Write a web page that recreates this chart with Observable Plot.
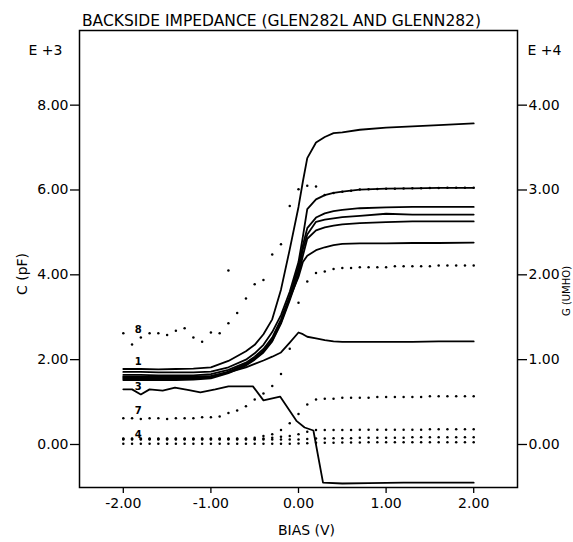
<!DOCTYPE html>
<html>
<head>
<meta charset="utf-8">
<script src="https://cdn.jsdelivr.net/npm/d3@7"></script>
<script src="https://cdn.jsdelivr.net/npm/@observablehq/plot@0.6"></script>
<style>
  html, body { margin: 0; padding: 0; background: #fff; }
  svg { display: block; }
</style>
</head>
<body>
<div id="chart"></div>
<script>
// ---- Data ----
const titleText = "BACKSIDE IMPEDANCE (GLEN282L AND GLENN282)";
const xTicks = [-2, -1, 0, 1, 2];
const leftTicks = [0, 2, 4, 6, 8];        // C (pF), E+3
const rightTicks = [0, 1, 2, 3, 4];       // right axis, E+4
const rightToLeft = 2;                    // right-axis unit = 2 left-axis units

// Solid curves (capacitance, left axis)
const solidX = [-2.0,-1.8,-1.6,-1.4,-1.2,-1.0,-0.8,-0.6,-0.5,-0.4,-0.3,-0.2,-0.1,0.0,0.05,0.1,0.2,0.3,0.4,0.5,0.7,1.0,1.3,1.6,2.0];
const capT    = [1.78,1.78,1.77,1.78,1.79,1.82,1.97,2.20,2.35,2.60,2.95,3.65,4.60,5.60,6.20,6.75,7.12,7.25,7.34,7.36,7.42,7.47,7.50,7.53,7.57];
const capB1   = [1.71,1.71,1.70,1.70,1.70,1.72,1.82,2.00,2.15,2.35,2.65,3.05,3.60,4.30,4.90,5.55,5.78,5.88,5.93,5.96,6.01,6.03,6.04,6.05,6.05];
const capB2   = [1.64,1.64,1.63,1.63,1.63,1.66,1.76,1.93,2.07,2.25,2.52,2.95,3.50,4.20,4.70,5.10,5.35,5.45,5.50,5.53,5.57,5.59,5.60,5.60,5.60];
const capB3   = [1.58,1.58,1.57,1.57,1.57,1.60,1.72,1.90,2.03,2.20,2.47,2.90,3.45,4.10,4.60,4.95,5.25,5.30,5.33,5.36,5.39,5.44,5.42,5.42,5.42];
const capB4   = [1.52,1.52,1.52,1.52,1.53,1.56,1.68,1.86,2.00,2.17,2.43,2.85,3.40,4.00,4.45,4.85,5.05,5.12,5.16,5.19,5.22,5.24,5.26,5.26,5.26];
const capB5   = [1.55,1.55,1.55,1.55,1.55,1.58,1.70,1.88,2.02,2.20,2.45,2.88,3.45,3.95,4.30,4.45,4.58,4.65,4.70,4.73,4.74,4.74,4.75,4.75,4.76];
const capBump = [1.60,1.60,1.60,1.60,1.60,1.62,1.70,1.82,1.90,1.98,2.07,2.17,2.40,2.64,2.60,2.54,2.50,2.46,2.43,2.42,2.42,2.42,2.42,2.43,2.43];

const dropX = [-2.0,-1.9,-1.8,-1.7,-1.55,-1.41,-1.25,-1.12,-0.95,-0.8,-0.52,-0.4,-0.21,-0.02,0.07,0.17,0.28,0.5,0.8,1.2,1.6,2.0];
const dropC = [1.30,1.30,1.18,1.30,1.27,1.34,1.28,1.23,1.30,1.37,1.37,1.04,1.13,0.55,0.40,0.33,-0.90,-0.92,-0.91,-0.90,-0.90,-0.90];

// Dotted curves (right axis, E+4), sampled every 0.1 V
const dotX = [-2.0,-1.9,-1.8,-1.7,-1.6,-1.5,-1.4,-1.3,-1.2,-1.1,-1.0,-0.9,-0.8,-0.7,-0.6,-0.5,-0.4,-0.3,-0.2,-0.1,
              0.0,0.1,0.2,0.3,0.4,0.5,0.6,0.7,0.8,0.9,1.0,1.1,1.2,1.3,1.4,1.5,1.6,1.7,1.8,1.9,2.0];
const condG8  = [1.31,1.18,1.26,1.31,1.31,1.29,1.34,1.37,1.26,1.21,1.32,1.31,1.43,1.55,1.72,1.89,1.94,2.24,2.36,2.81,
                 3.01,3.05,3.04,2.94,2.965,2.98,2.99,3.005,3.01,3.013,3.015,3.016,3.018,3.02,3.02,3.022,3.024,3.025,3.025,3.025,3.025];
const condG7  = [0.31,0.31,0.30,0.31,0.31,0.30,0.31,0.31,0.31,0.32,0.32,0.33,0.37,0.40,0.45,0.53,0.60,0.69,0.83,1.13,
                 1.67,1.92,2.02,2.04,2.07,2.08,2.08,2.09,2.09,2.09,2.09,2.10,2.10,2.10,2.10,2.10,2.11,2.11,2.11,2.11,2.11];
const condG4a = [0.07,0.07,0.07,0.07,0.07,0.07,0.07,0.07,0.07,0.07,0.07,0.07,0.07,0.07,0.07,0.08,0.10,0.12,0.17,0.25,
                 0.36,0.47,0.53,0.54,0.54,0.55,0.55,0.55,0.55,0.56,0.56,0.56,0.56,0.56,0.56,0.57,0.57,0.57,0.57,0.57,0.57];
const condG4b = [0.065,0.065,0.065,0.065,0.065,0.065,0.065,0.065,0.065,0.065,0.065,0.065,0.065,0.065,0.065,0.065,0.07,0.08,0.09,0.10,
                 0.12,0.15,0.17,0.17,0.17,0.17,0.17,0.175,0.175,0.175,0.175,0.175,0.175,0.175,0.175,0.18,0.18,0.18,0.18,0.18,0.18];
const condG4c = [0.06,0.06,0.06,0.06,0.06,0.06,0.06,0.06,0.06,0.06,0.06,0.06,0.06,0.06,0.06,0.06,0.06,0.06,0.06,0.06,
                 0.06,0.065,0.07,0.07,0.075,0.075,0.075,0.08,0.08,0.08,0.08,0.08,0.08,0.085,0.085,0.085,0.085,0.085,0.085,0.085,0.085];
const condG4d = [0.01,0.01,0.01,0.01,0.01,0.01,0.01,0.01,0.01,0.01,0.01,0.01,0.01,0.01,0.01,0.01,0.01,0.01,0.01,0.01,
                 0.012,0.015,0.02,0.02,0.02,0.022,0.022,0.022,0.025,0.025,0.025,0.025,0.025,0.025,0.025,0.025,0.025,0.025,0.025,0.025,0.025];
// isolated stray conductance point
const strayX = [-0.8];
const strayG = [2.05];

// Curve number labels (left-axis units) at x = -1.83
const curveLabels = ["8", "1", "3", "7", "4"];
const curveLabelY = [2.71, 1.96, 1.36, 0.80, 0.22];
const curveLabelX = -1.83;

// ---- Build tables ----
const solidSeries = [capT, capB1, capB2, capB3, capB4, capB5, capBump];
const solidRows = [];
solidSeries.forEach((s, k) => s.forEach((v, i) => solidRows.push({series: "s" + k, x: solidX[i], y: v})));
dropC.forEach((v, i) => solidRows.push({series: "drop", x: dropX[i], y: v}));

const dotSeries = [condG8, condG7, condG4a, condG4b, condG4c, condG4d];
const dotRows = [];
dotSeries.forEach((s, k) => s.forEach((v, i) => dotRows.push({series: "g" + k, x: dotX[i], y: v * rightToLeft})));
strayG.forEach((v, i) => dotRows.push({series: "stray", x: strayX[i], y: v * rightToLeft}));

const labelRows = curveLabels.map((t, i) => ({t, x: curveLabelX, y: curveLabelY[i]}));

const font = "DejaVu Sans, Liberation Sans, sans-serif";

const chart = Plot.plot({
  width: 573,
  height: 542,
  marginLeft: 79,
  marginRight: 56,
  marginTop: 30,
  marginBottom: 55,
  style: {fontFamily: font, fontSize: "14px", color: "#000", background: "#fff"},
  x: {domain: [-2.5, 2.5]},
  y: {domain: [-1.014, 9.76]},
  marks: [
    Plot.frame({stroke: "#000", strokeWidth: 1.5}),
    Plot.axisX({ticks: xTicks, tickFormat: d => d.toFixed(2), tickSize: 6, tickPadding: 5, label: null, fontSize: 14, strokeWidth: 1.3}),
    Plot.axisY({anchor: "left", ticks: leftTicks, tickFormat: d => d.toFixed(2), tickSize: 9, tickPadding: 2, label: null, fontSize: 14, strokeWidth: 1.3}),
    Plot.axisY({anchor: "right", ticks: rightTicks.map(v => v * rightToLeft), tickFormat: d => (d / rightToLeft).toFixed(2), tickSize: 9, tickPadding: 2, label: null, fontSize: 14, strokeWidth: 1.3}),
    Plot.dot(dotRows, {x: "x", y: "y", r: 1.25, fill: "#000", stroke: "none"}),
    Plot.line(solidRows, {x: "x", y: "y", z: "series", stroke: "#000", strokeWidth: 1.8, strokeLinejoin: "round"}),
    Plot.text(labelRows, {x: "x", y: "y", text: "t", fontSize: 10, fontWeight: "bold", fill: "#000"}),
    Plot.text([titleText], {frameAnchor: "top", textAnchor: "middle", dx: -17, dy: -16, fontSize: 15.5, fill: "#000"}),
    Plot.text(["E +3"], {frameAnchor: "top-left", textAnchor: "middle", dx: -34, dy: 15, fontSize: 14, fill: "#000"}),
    Plot.text(["E +4"], {frameAnchor: "top-right", textAnchor: "middle", dx: 27, dy: 15, fontSize: 14, fill: "#000"}),
    Plot.text(["C (pF)"], {frameAnchor: "left", textAnchor: "middle", dx: -57, dy: 15, rotate: -90, fontSize: 14, fill: "#000"}),
    Plot.text(["G (UMHO)"], {frameAnchor: "right", textAnchor: "middle", dx: 49, dy: 32, rotate: -90, fontSize: 10, fill: "#000"}),
    Plot.text(["BIAS (V)"], {frameAnchor: "bottom", textAnchor: "middle", dx: 8, dy: 47, fontSize: 14, fill: "#000"})
  ]
});
document.getElementById("chart").appendChild(chart);
</script>
</body>
</html>
